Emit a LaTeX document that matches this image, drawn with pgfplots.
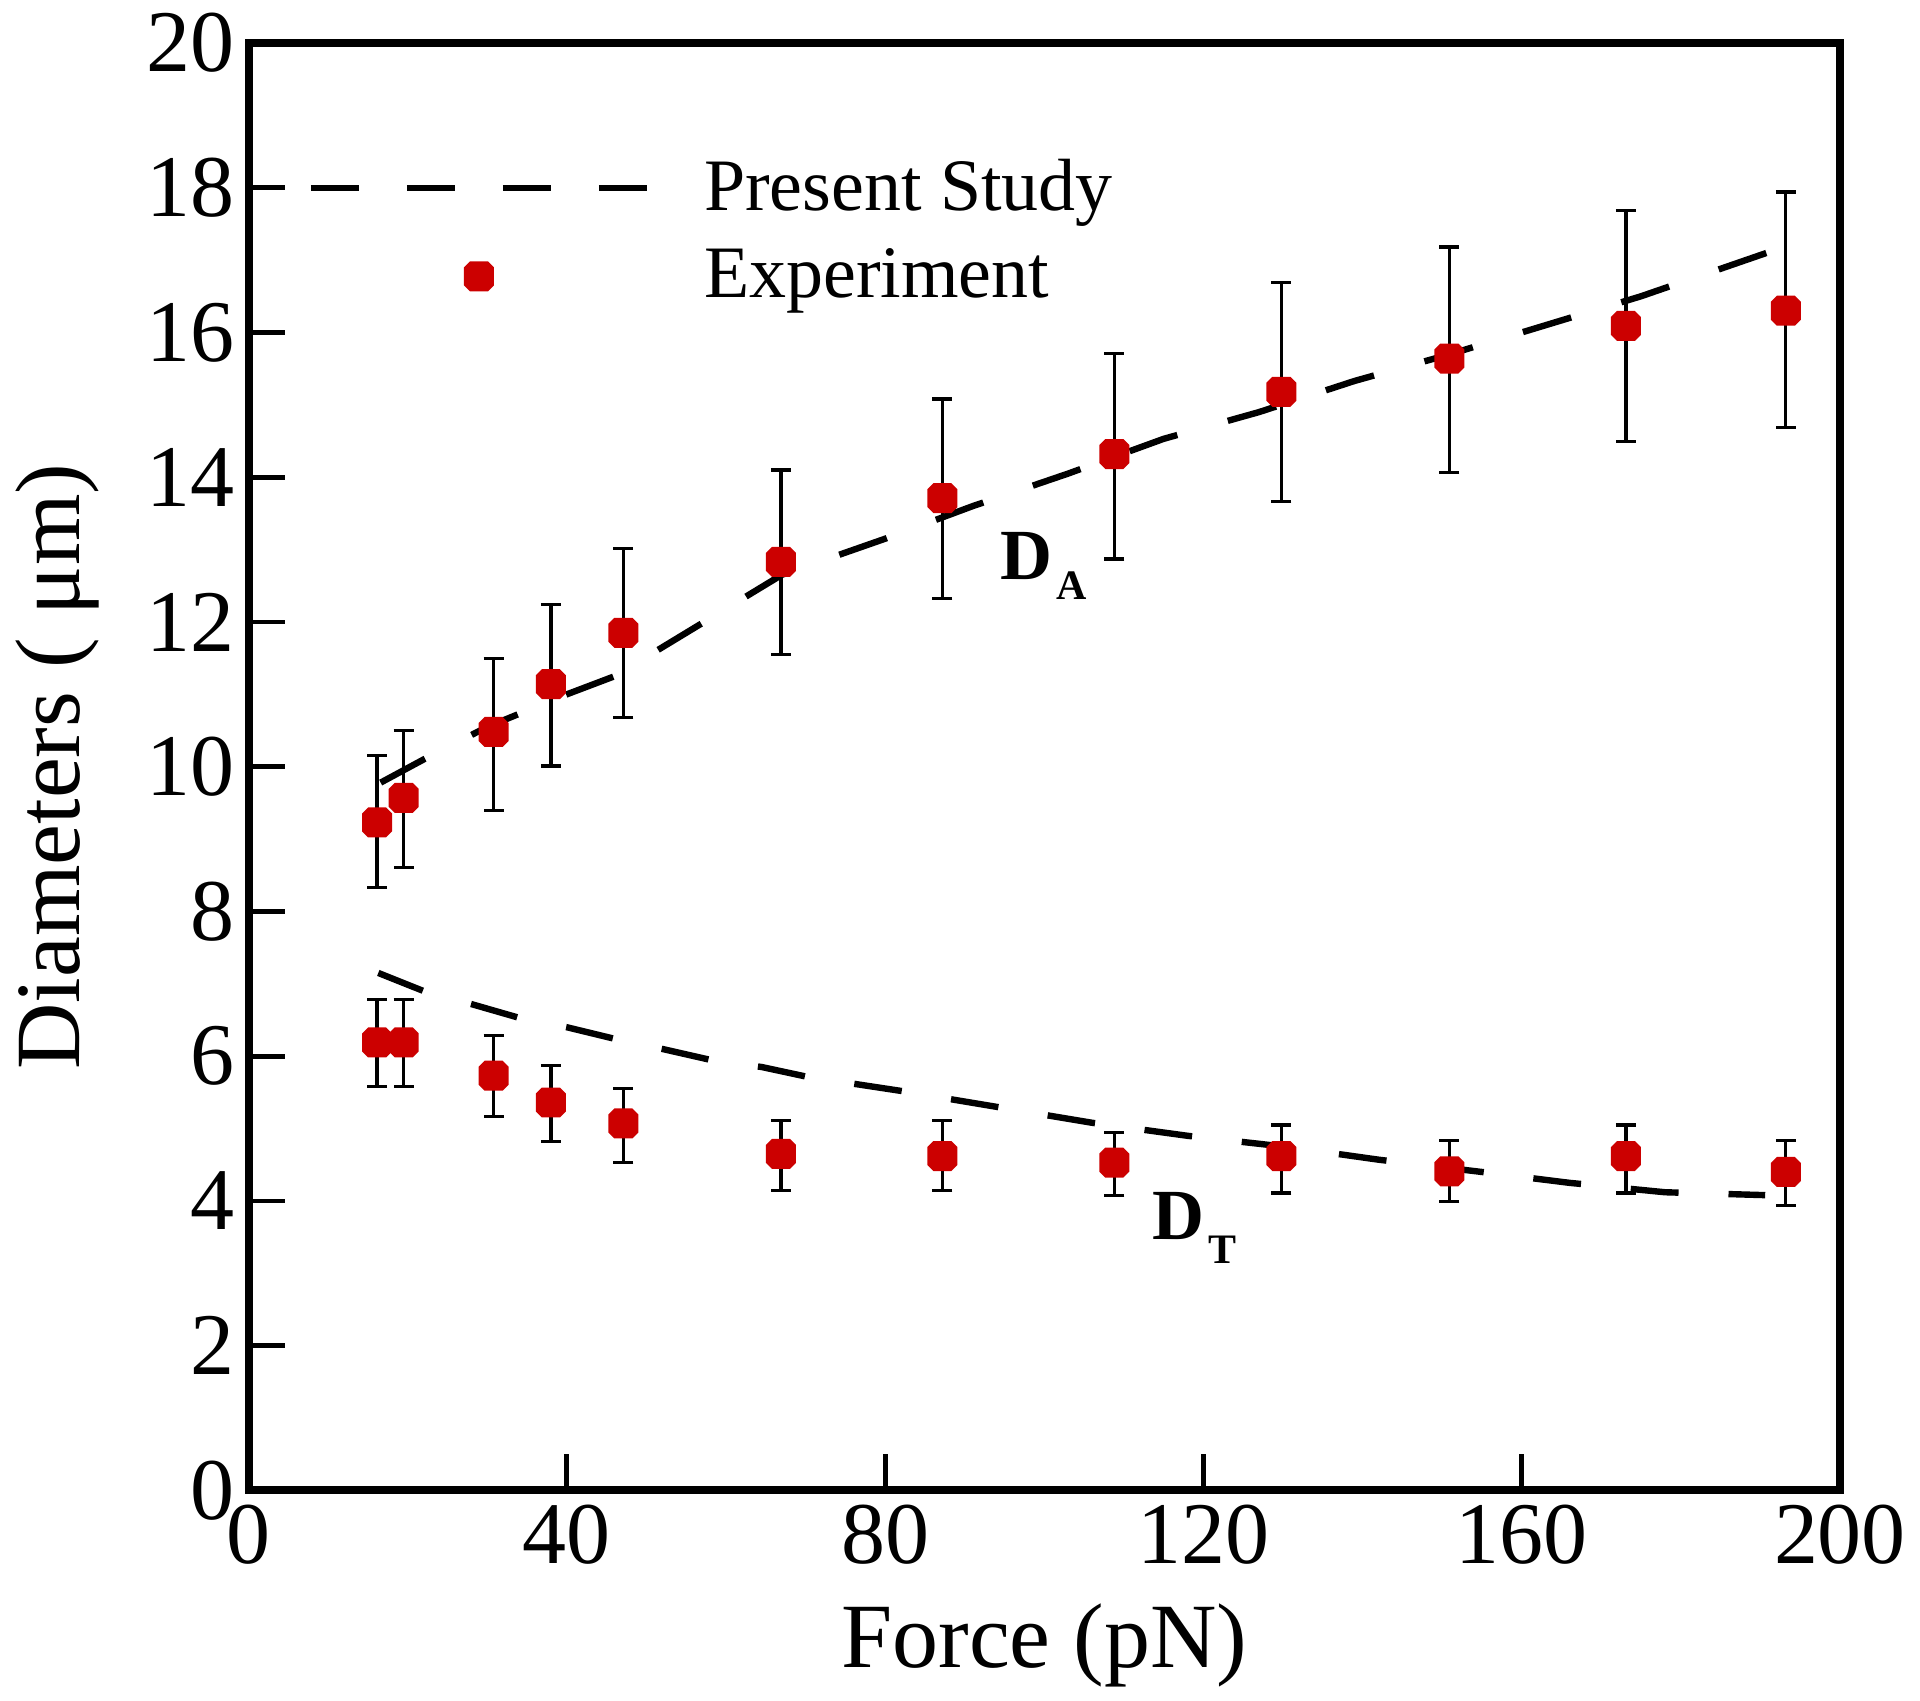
\documentclass[border=0pt]{standalone}
\usepackage{fontspec}
\setmainfont{Liberation Serif}
\usepackage{pgfplots}
\pgfplotsset{compat=1.18}
\definecolor{expred}{RGB}{204,0,0}
\pgfdeclareplotmark{oct}{%
  \pgfpathmoveto{\pgfqpoint{\pgfplotmarksize}{0.6\pgfplotmarksize}}%
  \pgfpathlineto{\pgfqpoint{0.6\pgfplotmarksize}{\pgfplotmarksize}}%
  \pgfpathlineto{\pgfqpoint{-0.6\pgfplotmarksize}{\pgfplotmarksize}}%
  \pgfpathlineto{\pgfqpoint{-\pgfplotmarksize}{0.6\pgfplotmarksize}}%
  \pgfpathlineto{\pgfqpoint{-\pgfplotmarksize}{-0.6\pgfplotmarksize}}%
  \pgfpathlineto{\pgfqpoint{-0.6\pgfplotmarksize}{-\pgfplotmarksize}}%
  \pgfpathlineto{\pgfqpoint{0.6\pgfplotmarksize}{-\pgfplotmarksize}}%
  \pgfpathlineto{\pgfqpoint{\pgfplotmarksize}{-0.6\pgfplotmarksize}}%
  \pgfpathclose\pgfusepathqfill}
\pgfplotsset{
  dashleg/.style={legend image code/.code={\draw[##1, dash pattern=on 12pt off 12pt] (0pt,0pt) -- (84pt,0pt);}},
  markleg/.style={legend image code/.code={\draw[##1] plot coordinates {(42pt,0pt)};}},
}

\pgfplotstableread{
x y ep em
16.15 9.23 0.93 0.90
19.5 9.57 0.93 0.96
30.8 10.48 1.02 1.08
38.0 11.14 1.10 1.13
47.1 11.85 1.17 1.17
66.9 12.83 1.27 1.28
87.2 13.71 1.37 1.39
108.8 14.32 1.39 1.45
129.8 15.18 1.51 1.52
150.9 15.64 1.54 1.57
173.1 16.09 1.59 1.60
193.2 16.30 1.64 1.61
}\expA
\pgfplotstableread{
x y ep em
16.15 6.19 0.59 0.61
19.5 6.19 0.59 0.61
30.8 5.73 0.56 0.56
38.0 5.36 0.51 0.54
47.1 5.07 0.48 0.54
66.9 4.65 0.46 0.51
87.2 4.62 0.49 0.48
108.8 4.53 0.42 0.46
129.8 4.62 0.43 0.51
150.9 4.41 0.43 0.42
173.1 4.62 0.43 0.51
193.2 4.40 0.44 0.46
}\expT

\begin{document}
\begin{tikzpicture}
\begin{axis}[
  scale only axis, width=398pt, height=362pt,
  xmin=0, xmax=200, ymin=0, ymax=20,
  xtick={0,40,...,200}, ytick={0,2,...,20},
  tick pos=left, tick align=inside, major tick length=9pt,
  axis line style={line width=2pt},
  tick style={line width=1.2pt, black},
  /pgf/number format/assume math mode=true,
  tick label style={font=\fontsize{22}{24}\selectfont},
  label style={font=\fontsize{23}{26}\selectfont},
  xlabel={Force (pN)}, ylabel={Diameters ( μm)},
  xlabel style={at={(axis description cs:0.5,-0.1222)}, anchor=base},
  ylabel style={at={(axis description cs:-0.12,0.5)}, anchor=center},
  legend style={draw=none, fill=none, at={(axis description cs:0.0367,0.9255)}, anchor=north west,
    inner sep=0pt, font=\fontsize{18.5}{21}\selectfont, row sep=4pt,
    /tikz/every odd column/.append style={column sep=11.5pt}},
  legend cell align=left,
]
\addplot[black, line width=1.6pt, dash pattern=on 12.6pt off 13.1pt, dashleg]
coordinates {
(16.6,9.78) (22,10.1) (30,10.55) (40,11.0) (46,11.25) (55,11.85) (67,12.65)
(80,13.15) (91,13.6) (103,14.05) (115,14.53) (127,14.9) (139,15.33)
(151,15.7) (163,16.1) (175,16.5) (190.8,17.1)
};
\addlegendentry{Present Study}
\addplot[black, line width=1.6pt, dash pattern=on 12pt off 12.5pt, forget plot]
coordinates {
(16.3,7.15) (22,6.9) (28,6.72) (34,6.53) (40,6.4) (46,6.24) (52,6.1) (58,5.95)
(64.5,5.85) (70,5.72) (82,5.52) (94,5.3) (106,5.08) (118,4.9) (131,4.74)
(142,4.57) (155,4.40) (166,4.25) (178,4.12) (190.6,4.08)
};
\addplot[only marks, mark=oct, mark size=3.75pt, color=expred, markleg,
  error bars/.cd, y dir=both, y explicit,
  error bar style={line width=0.8pt, black},
  error mark options={rotate=90, mark size=2.5pt, line width=0.8pt, black}]
table[x=x, y=y, y error plus=ep, y error minus=em] {\expA};
\addlegendentry{Experiment}
\addplot[only marks, mark=oct, mark size=3.75pt, color=expred, forget plot,
  error bars/.cd, y dir=both, y explicit,
  error bar style={line width=0.8pt, black},
  error mark options={rotate=90, mark size=2.5pt, line width=0.8pt, black}]
table[x=x, y=y, y error plus=ep, y error minus=em] {\expT};
\node[anchor=base west, inner sep=0pt] at (axis cs:94.4,12.58)
  {{\fontsize{18}{20}\selectfont\bfseries D}\hspace{1pt}\raisebox{-5pt}{\fontsize{10.5}{12}\selectfont\bfseries A}};
\node[anchor=base west, inner sep=0pt] at (axis cs:113.5,3.47)
  {{\fontsize{18}{20}\selectfont\bfseries D}\hspace{1pt}\raisebox{-6pt}{\fontsize{10.5}{12}\selectfont\bfseries T}};
\coordinate (bl) at (axis description cs:-0.1562,-0.1450);
\coordinate (tr) at (axis description cs:1.0503,1.0297);
\end{axis}
\pgfresetboundingbox
\path[use as bounding box] (bl) rectangle (tr);
\end{tikzpicture}
\end{document}
